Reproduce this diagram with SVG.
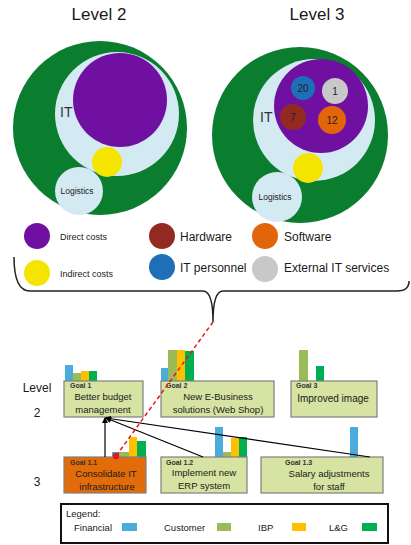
<svg xmlns="http://www.w3.org/2000/svg" width="411" height="545" viewBox="0 0 411 545">
  <defs>
    <style>
      text { font-family: "Liberation Sans", Arial, sans-serif; fill: #1a1a1a; }
      .title { font-size: 17px; text-anchor: middle; }
      .it { font-size: 14px; fill: #333; }
      .logi { font-size: 8.5px; text-anchor: middle; }
      .num { font-size: 10px; text-anchor: middle; fill: #222; }
      .lg-small { font-size: 9px; }
      .lg-big { font-size: 12px; }
      .lvl { font-size: 12px; text-anchor: middle; }
      .goal { fill: #d7e3a2; stroke: #7f7f7f; stroke-width: 1.2; }
      .goal-hot { fill: #e26b0a; stroke: #7f7f7f; stroke-width: 1.2; }
      .gid { font-size: 7px; font-weight: bold; fill: #333; }
      .gtx { font-size: 9.5px; text-anchor: middle; }
      .fin { fill: #4bacdb; }
      .cus { fill: #9bbb59; }
      .ibp { fill: #ffc000; }
      .lng { fill: #00b050; }
      .green { fill: #0a7d2e; }
      .pale { fill: #d4eaf2; }
      .purple { fill: #7010a0; }
      .yellow { fill: #f4e400; }
      .link { stroke: #000; stroke-width: 1.2; fill: none; marker-end: url(#head); }
      .trace { stroke: #e8141c; stroke-width: 1.5; stroke-dasharray: 4 3; fill: none; }
      .leg { font-size: 9.5px; }
    </style>
    <marker id="head" markerWidth="6" markerHeight="6" refX="5" refY="3" orient="auto" markerUnits="userSpaceOnUse">
      <path d="M0,0 L6,3 L0,6 z" fill="#000"/>
    </marker>
  </defs>

  <rect width="411" height="545" fill="#fff"/>

  <!-- Level 2 cost circles -->
  <g id="level2">
    <text class="title" x="99" y="20">Level 2</text>
    <circle class="green" cx="100" cy="128" r="87"/>
    <circle class="pale" cx="117" cy="114" r="62"/>
    <circle class="purple" cx="120" cy="100" r="47"/>
    <circle class="yellow" cx="107" cy="162" r="15"/>
    <circle class="pale" cx="79" cy="191" r="24"/>
    <text class="it" x="60" y="117">IT</text>
    <text class="logi" x="77" y="194">Logistics</text>
  </g>

  <!-- Level 3 cost circles -->
  <g id="level3">
    <text class="title" x="317" y="20">Level 3</text>
    <circle class="green" cx="300" cy="135" r="88"/>
    <circle class="pale" cx="314" cy="120" r="61"/>
    <circle class="purple" cx="321" cy="106" r="47"/>
    <circle cx="303" cy="88" r="12" fill="#1f6fb8"/>
    <circle cx="335" cy="91" r="13" fill="#c8c8c8"/>
    <circle cx="293" cy="117" r="13" fill="#932a22"/>
    <circle cx="332" cy="120" r="14" fill="#e2650a"/>
    <text class="num" x="303" y="92">20</text>
    <text class="num" x="335" y="95">1</text>
    <text class="num" x="293" y="121">7</text>
    <text class="num" x="332" y="124">12</text>
    <circle class="yellow" cx="308" cy="168" r="15"/>
    <circle class="pale" cx="277" cy="197" r="25"/>
    <text class="it" x="260" y="122">IT</text>
    <text class="logi" x="275" y="200">Logistics</text>
  </g>

  <!-- Cost legend -->
  <g id="cost-legend">
    <circle class="purple" cx="37" cy="236" r="13"/>
    <text class="lg-small" x="60" y="240">Direct costs</text>
    <circle class="yellow" cx="37" cy="273" r="13"/>
    <text class="lg-small" x="60" y="277">Indirect costs</text>
    <circle cx="162" cy="236" r="13" fill="#932a22"/>
    <text class="lg-big" x="180" y="241">Hardware</text>
    <circle cx="162" cy="267" r="13" fill="#1f6fb8"/>
    <text class="lg-big" x="180" y="272">IT personnel</text>
    <circle cx="265" cy="236" r="13" fill="#e2650a"/>
    <text class="lg-big" x="284" y="241">Software</text>
    <circle cx="265" cy="269" r="13" fill="#c8c8c8"/>
    <text class="lg-big" x="284" y="272">External IT services</text>
  </g>

  <!-- Brace grouping the cost view -->
  <path id="brace" d="M14,257 Q14,291 30,291 L203,291 Q213,291 213,322 Q213,291 223,291 L397,291 Q409,291 409,281" fill="none" stroke="#222" stroke-width="1.5"/>

  <!-- Level labels -->
  <g id="levels">
    <text class="lvl" x="37" y="392">Level</text>
    <text class="lvl" x="37" y="417">2</text>
    <text class="lvl" x="37" y="486">3</text>
  </g>

  <!-- Goal 1 -->
  <g id="goal1">
    <rect class="fin" x="65" y="365" width="8" height="16"/>
    <rect class="cus" x="73" y="373" width="8" height="8"/>
    <rect class="ibp" x="81" y="371" width="8" height="10"/>
    <rect class="lng" x="89" y="371" width="8" height="10"/>
    <rect class="goal" x="64" y="381" width="79" height="36"/>
    <text class="gid" x="70" y="388">Goal 1</text>
    <text class="gtx" x="103" y="400">Better budget</text>
    <text class="gtx" x="103" y="413">management</text>
  </g>

  <!-- Goal 2 -->
  <g id="goal2">
    <rect class="fin" x="161" y="368" width="7" height="13"/>
    <rect class="cus" x="168" y="350" width="9" height="31"/>
    <rect class="ibp" x="177" y="350" width="8" height="31"/>
    <rect class="lng" x="185" y="351" width="9" height="30"/>
    <rect class="goal" x="161" y="381" width="113" height="36"/>
    <text class="gid" x="166" y="388">Goal 2</text>
    <text class="gtx" x="218" y="400">New E-Business</text>
    <text class="gtx" x="218" y="413">solutions (Web Shop)</text>
  </g>

  <!-- Goal 3 -->
  <g id="goal3">
    <rect class="cus" x="299" y="350" width="9" height="31"/>
    <rect class="lng" x="316" y="366" width="8" height="15"/>
    <rect class="goal" x="291" y="381" width="86" height="36"/>
    <text class="gid" x="296" y="388">Goal 3</text>
    <text class="gtx" x="333" y="402" style="font-size:10px">Improved image</text>
  </g>

  <!-- Goal 1.1 -->
  <g id="goal1-1">
    <rect class="fin" x="112" y="452" width="7" height="5"/>
    <rect class="cus" x="119" y="452" width="10" height="5"/>
    <rect class="ibp" x="129" y="437" width="8" height="20"/>
    <rect class="lng" x="137" y="441" width="9" height="16"/>
    <rect class="goal-hot" x="64" y="457" width="82" height="36"/>
    <text class="gid" x="70" y="465">Goal 1.1</text>
    <text class="gtx" x="106" y="477">Consolidate IT</text>
    <text class="gtx" x="107" y="490">infrastructure</text>
  </g>

  <!-- Goal 1.2 -->
  <g id="goal1-2">
    <rect class="fin" x="215" y="427" width="8" height="30"/>
    <rect class="cus" x="223" y="452" width="8" height="5"/>
    <rect class="ibp" x="231" y="438" width="8" height="19"/>
    <rect class="lng" x="239" y="437" width="8" height="20"/>
    <rect class="goal" x="161" y="457" width="86" height="36"/>
    <text class="gid" x="166" y="465">Goal 1.2</text>
    <text class="gtx" x="204" y="476">Implement new</text>
    <text class="gtx" x="204" y="489">ERP system</text>
  </g>

  <!-- Goal 1.3 -->
  <g id="goal1-3">
    <rect class="fin" x="350" y="427" width="8" height="30"/>
    <rect class="goal" x="261" y="457" width="122" height="36"/>
    <text class="gid" x="285" y="465">Goal 1.3</text>
    <text class="gtx" x="329" y="477">Salary adjustments</text>
    <text class="gtx" x="329" y="490">for staff</text>
  </g>

  <!-- Connectors: sub-goals to goal 1, and the cost trace -->
  <g id="connectors">
    <path class="link" d="M105,457 L105,418"/>
    <path class="link" d="M203,457 L106,418"/>
    <path class="link" d="M370,457 L106,418"/>
    <path class="trace" d="M213,322 L116,456"/>
    <circle cx="116" cy="456" r="3.2" fill="#e8141c"/>
  </g>

  <!-- Balanced scorecard legend -->
  <g id="bsc-legend">
    <rect x="61" y="504" width="327" height="39" fill="#fff" stroke="#111" stroke-width="2"/>
    <text class="leg" x="66" y="517">Legend:</text>
    <text class="leg" x="74" y="531">Financial</text>
    <rect class="fin" x="122" y="523" width="15" height="8"/>
    <text class="leg" x="164" y="531">Customer</text>
    <rect class="cus" x="217" y="523" width="14" height="8"/>
    <text class="leg" x="258" y="531">IBP</text>
    <rect class="ibp" x="292" y="523" width="14" height="8"/>
    <text class="leg" x="329" y="531">L&amp;G</text>
    <rect class="lng" x="362" y="523" width="15" height="8"/>
  </g>
</svg>
